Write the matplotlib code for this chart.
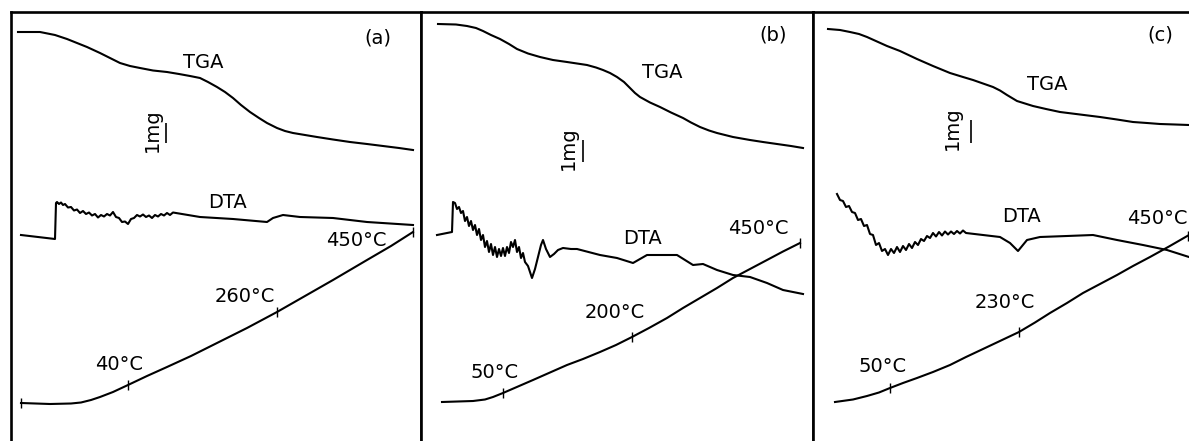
import numpy as np
import matplotlib.pyplot as plt

# Chart-paper traces for the three runs, in local chart units
# (x along the chart from the panel's left edge, y downward from the top rule).

# --- run (a) ---
tga_a_x = [7, 29, 44, 56, 66, 76, 89, 99, 109, 119, 129, 142, 156, 168, 179, 189, 197, 206, 214, 222,
           230, 239, 248, 256, 266, 274, 282, 294, 306, 322, 339, 356, 372, 388, 402]
tga_a_y = [20, 20, 23, 27, 31, 35, 41, 46, 51, 54, 56, 58.5, 60, 62, 64, 66, 70, 75, 80, 86, 93, 100,
           106, 111, 116, 119, 121, 123, 125, 127.5, 130, 132, 134, 136, 138]

dta_a_x = [10, 44, 45, 46, 48, 50, 52, 54, 57, 60, 63, 66, 69, 72, 75, 78, 81, 84, 87, 90, 93, 96, 99,
           102, 105, 108, 111, 114, 117, 120, 123, 126, 129, 132, 135, 138, 141, 144, 147, 150, 153,
           156, 159, 162, 189, 222, 256, 262, 272, 289, 322, 356, 402]
dta_a_y = [223, 227, 191, 190, 192, 190.5, 193, 192, 195.5, 195, 198.5, 197.5, 201, 199, 202, 200.5,
           203.5, 202, 205.5, 203, 204.5, 202, 203.5, 200, 205, 206, 210, 209.5, 212, 207, 206, 203,
           204.5, 202.5, 205, 203.5, 206, 203, 204.5, 202, 203.5, 201, 203, 200.5, 205, 207, 210,
           206, 203, 205, 206, 210, 213]

temp_a_x = [10, 39, 60, 70, 80, 89, 102, 117, 136, 156, 180, 206, 236, 266, 294, 322, 356, 380, 402]
temp_a_y = [391, 392, 391.5, 390.5, 388, 385, 380, 373, 364, 355, 344, 331, 316, 300, 284, 268, 248, 234, 220]
marks_a_x = [10, 117, 266, 402]
marks_a_txt = ["", "40°C", "260°C", "450°C"]

# --- run (b) ---
tga_b_x = [17, 35, 46, 55, 62, 70, 79, 88, 96, 107, 119, 132, 146, 156, 166, 175, 182, 189, 196, 203,
           209, 214, 219, 229, 239, 250, 262, 270, 279, 288, 296, 312, 329, 342, 356, 370, 382]
tga_b_y = [12, 12.5, 14, 16, 19, 23, 27, 32, 37, 41.5, 45, 48, 50, 51.5, 53, 55.5, 58, 61, 65, 70,
           76, 81, 85, 90.5, 95, 100.5, 106, 110.5, 115, 118.5, 121, 125, 128, 130, 132, 134, 136]

dta_b_x = [16, 31, 32, 34, 36, 38, 40, 42, 44, 46, 48, 50, 52, 54, 56, 58, 60, 62, 64, 66, 68, 70, 72,
           74, 76, 78, 80, 82, 84, 86, 88, 90, 92, 94, 96, 98, 100, 102, 104, 107, 111, 114, 117, 120,
           122, 125, 129, 133, 137, 142, 150, 156, 179, 196, 212, 226, 246, 256, 272, 282, 296, 312,
           329, 346, 362, 382]
dta_b_y = [223, 220, 190, 191, 197, 195, 201, 199, 209, 205, 214, 209, 218, 213, 223, 217, 228, 223,
           235, 229, 240, 232, 243, 235, 245, 237, 244, 236, 244, 235, 241, 230, 235, 228, 240, 235,
           246, 241, 250, 254, 266, 257, 245, 233, 228, 237, 245, 242, 238, 236, 237, 237, 243, 246,
           251, 243, 243, 243, 253, 252, 258, 263, 265, 271, 278, 282]

temp_b_x = [21, 52, 64, 72, 82, 97, 112, 129, 146, 162, 179, 195, 211, 228, 246, 262, 279, 296, 312,
            329, 346, 362, 379]
temp_b_y = [390, 389, 387.5, 385, 381, 374.5, 368, 360.5, 353, 347, 340, 333, 325, 316, 306, 296, 286,
            276, 266, 257, 248, 239.5, 231]
marks_b_x = [82, 211, 379]
marks_b_txt = ["50°C", "200°C", "450°C"]

# --- run (c) ---
tga_c_x = [15, 27, 37, 46, 54, 64, 74, 87, 104, 120, 137, 150, 160, 170, 180, 187, 194, 199, 204, 212,
           220, 233, 247, 267, 287, 304, 320, 334, 347, 362, 376]
tga_c_y = [17, 18, 20, 22, 25, 29.5, 34, 39, 47, 54, 61, 65, 68, 71.5, 75, 78.5, 83, 86, 89, 91.5,
           94, 97, 100, 102.5, 105, 107.5, 110, 111, 112, 112.5, 113]

dta_c_x = [24, 27, 30, 33, 36, 39, 42, 45, 48, 51, 54, 57, 60, 63, 66, 69, 72, 75, 78, 81, 84, 87, 90,
           93, 96, 99, 102, 105, 108, 111, 114, 117, 120, 123, 126, 129, 132, 135, 138, 141, 144, 147,
           150, 153, 170, 187, 197, 205, 214, 227, 254, 280, 304, 330, 354, 376]
dta_c_y = [182, 188, 189, 195, 194, 200, 201, 208, 207, 214, 213, 222, 223, 233, 231, 239, 237, 243,
           237, 241, 235, 240, 234, 238, 232, 236, 230, 233, 227, 229, 224, 226, 221, 224.5, 220, 223.5,
           219.5, 222.5, 219.5, 222, 219, 221.5, 218.5, 221, 223, 225, 231, 239, 228, 225, 224, 223,
           228, 233, 238, 245]

temp_c_x = [22, 40, 54, 66, 77, 90, 104, 120, 137, 153, 170, 188, 206, 222, 237, 254, 270, 287, 304,
            320, 337, 356, 376]
temp_c_y = [390, 387.5, 384, 380.5, 376, 371, 366, 360, 353, 345, 337, 328.5, 320, 310.5, 301, 291,
            281, 272, 263, 254, 245, 234.5, 223]
marks_c_x = [77, 206, 375]
marks_c_txt = ["50°C", "230°C", "450°C"]

panels = [
    dict(left=11, right=421, tag="(a)", tga=(tga_a_x, tga_a_y), dta=(dta_a_x, dta_a_y),
         temp=(temp_a_x, temp_a_y), marks=(marks_a_x, marks_a_txt),
         lab_xy=[None, (108, 353), (234, 284), (345, 228)], lab_ha=["center"] * 4,
         tga_lab=(192, 50), dta_lab=(216, 191), tag_xy=(367, 26),
         mg_xy=(141, 118), bar=(155, 111, 131), right_spine=True),
    dict(left=421, right=813, tag="(b)", tga=(tga_b_x, tga_b_y), dta=(dta_b_x, dta_b_y),
         temp=(temp_b_x, temp_b_y), marks=(marks_b_x, marks_b_txt),
         lab_xy=[(74, 360), (194, 300), (337, 216)], lab_ha=["center"] * 3,
         tga_lab=(241, 60), dta_lab=(222, 226), tag_xy=(352, 23),
         mg_xy=(147, 136), bar=(162, 128, 150), right_spine=True),
    dict(left=813, right=1200, tag="(c)", tga=(tga_c_x, tga_c_y), dta=(dta_c_x, dta_c_y),
         temp=(temp_c_x, temp_c_y), marks=(marks_c_x, marks_c_txt),
         lab_xy=[(70, 355), (192, 290), (314, 206)], lab_ha=["center", "center", "left"],
         tga_lab=(234, 73), dta_lab=(208, 205), tag_xy=(347, 23),
         mg_xy=(139, 116), bar=(158, 108, 131), right_spine=False),
]

W, H, TOP = 1189, 441, 12
fig = plt.figure(figsize=(W / 100, H / 100), dpi=100)
fs = 14
lw = 1.5

for p in panels:
    ax = fig.add_axes([p["left"] / W, 0, (p["right"] - p["left"]) / W, (H - TOP) / H])
    ax.set_xlim(0, p["right"] - p["left"])
    ax.set_ylim(H - TOP, 0)
    ax.set_xticks([])
    ax.set_yticks([])
    for side in ["top", "left", "right"]:
        ax.spines[side].set_linewidth(1.9)
    ax.spines["bottom"].set_visible(False)
    ax.spines["right"].set_visible(p["right_spine"])

    ax.plot(*p["tga"], color="black", lw=lw)
    ax.plot(*p["dta"], color="black", lw=lw)
    tx, ty = p["temp"]
    ax.plot(tx, ty, color="black", lw=lw)

    # temperature marks on the furnace trace
    mx, mtxt = p["marks"]
    my = np.interp(mx, tx, ty)
    ax.vlines(mx, my - 5, my + 5, color="black", lw=1.0)
    for s, xy, ha in zip(mtxt, p["lab_xy"], p["lab_ha"]):
        if s:
            ax.text(xy[0], xy[1], s, fontsize=fs, ha=ha, va="center", clip_on=False)

    ax.text(*p["tga_lab"], "TGA", fontsize=fs, ha="center", va="center")
    ax.text(*p["dta_lab"], "DTA", fontsize=fs, ha="center", va="center")
    ax.text(*p["tag_xy"], p["tag"], fontsize=fs, ha="center", va="center")

    # 1 mg scale bar
    ax.text(*p["mg_xy"], "1mg", fontsize=fs, rotation=90, ha="center", va="center")
    bx, b0, b1 = p["bar"]
    ax.vlines(bx, b0, b1, color="black", lw=1.2)

fig.savefig("out.png", dpi=100)
